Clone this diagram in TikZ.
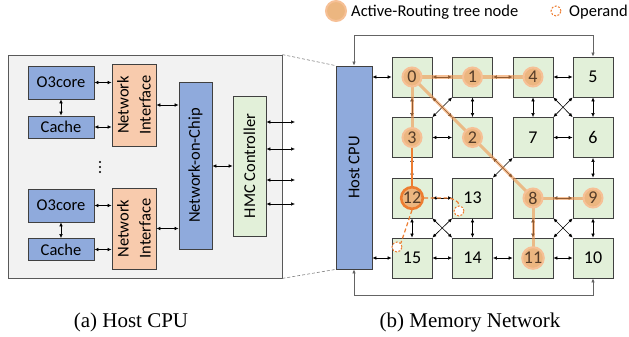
\documentclass[tikz,border=0pt]{standalone}
\usepackage{fontspec}
\setmainfont{Carlito}
\newfontfamily\capfont{Liberation Serif}
\usetikzlibrary{arrows.meta}

\definecolor{cpublue}{RGB}{143,170,220}
\definecolor{nipeach}{RGB}{248,203,173}
\definecolor{mint}{RGB}{226,240,217}
\definecolor{panelgray}{RGB}{242,242,242}
\definecolor{paneledge}{RGB}{89,89,89}
\definecolor{edgegray}{RGB}{64,64,64}
\definecolor{treeline}{RGB}{240,150,80}
\definecolor{treefill}{RGB}{236,182,128}
\definecolor{treering}{RGB}{246,192,150}
\definecolor{treetext}{RGB}{85,60,40}
\definecolor{ordark}{RGB}{237,125,49}
\definecolor{loopgray}{RGB}{100,100,100}

\begin{document}
\begin{tikzpicture}[x=1pt,y=-1pt,
  font=\fontsize{16.5}{20}\selectfont,
  tip/.tip={Latex[length=4pt,width=3.6pt]},
  link/.style={tip-tip, line width=0.6pt, black},
  loopline/.style={-tip, line width=0.9pt, loopgray},
  anybox/.style={rectangle, draw=edgegray, line width=0.8pt, inner sep=0pt},
  bluebox/.style={anybox, fill=cpublue},
  peachbox/.style={anybox, fill=nipeach},
  greenbox/.style={anybox, fill=mint},
  tile/.style={greenbox, minimum width=40pt, minimum height=40pt},
  digits/.style={font=\fontsize{18}{20}\selectfont},
  treenode/.style={circle, inner sep=0pt, minimum size=19pt, fill=treefill,
    draw=treering, line width=2pt, text=treetext, digits},
  operand/.style={circle, inner sep=0pt, minimum size=10pt, fill=white,
    draw=ordark, dash pattern=on 2pt off 1.5pt, line width=1pt},
  treeedge/.style={draw=treeline, draw opacity=0.6, line width=3pt},
  opline/.style={draw=ordark, line width=1.2pt, dash pattern=on 4pt off 2.5pt},
  vlabel/.style={rotate=90, align=center, inner sep=0pt},
]
\useasboundingbox (0,0) rectangle (629,337);

% ---------------- Host CPU internals ----------------
\node[anybox, fill=panelgray, draw=paneledge, minimum width=274pt, minimum height=223pt] (panel) at (145,166.5) {};

\node[bluebox, minimum width=66pt, minimum height=33pt] (core1) at (61,82.5) {O3core};
\node[bluebox, minimum width=66pt, minimum height=22pt] (cache1) at (61,127) {Cache};
\node[bluebox, minimum width=66pt, minimum height=33pt] (core2) at (61,205.5) {O3core};
\node[bluebox, minimum width=66pt, minimum height=22pt] (cache2) at (61,249.5) {Cache};

\node[peachbox, minimum width=44pt, minimum height=82pt] (ni1) at (134,105) {};
\node[vlabel, font=\fontsize{16.5}{22}\selectfont] (ni1t) at (ni1.center) {Network\\Interface};
\node[peachbox, minimum width=44pt, minimum height=81pt] (ni2) at (134,228.5) {};
\node[vlabel, font=\fontsize{16.5}{22}\selectfont] (ni2t) at (ni2.center) {Network\\Interface};

\node[bluebox, minimum width=33pt, minimum height=167pt] (noc) at (195.5,165.5) {};
\node[vlabel] (noct) at (noc.center) {Network-on-Chip};
\node[greenbox, minimum width=33pt, minimum height=140pt] (hmc) at (249.5,166) {};
\node[vlabel] (hmct) at (hmc.center) {HMC Controller};

% vertical ellipsis between the two core groups
\foreach \yy in {162,167,172} \fill (100,\yy) circle (1.2pt);

\draw[link] (core1.east) -- (core1.east -| ni1.west);
\draw[link] (cache1.east) -- (cache1.east -| ni1.west);
\draw[link] (core1.south) -- (cache1.north);
\draw[link] (core2.east) -- (core2.east -| ni2.west);
\draw[link] (cache2.east) -- (cache2.east -| ni2.west);
\draw[link] (core2.south) -- (cache2.north);
\draw[link] (ni1.east) -- (ni1.east -| noc.west);
\draw[link] (ni2.east) -- (ni2.east -| noc.west);
\draw[link] (noc.east |- hmc.center) -- (hmc.west);

\coordinate (port1) at (295,122);
\coordinate (port2) at (295,149);
\coordinate (port3) at (295,180);
\coordinate (port4) at (295,204);
\foreach \p in {port1,port2,port3,port4}
  \draw[link] (hmc.east |- \p) -- (\p);

% ---------------- Memory network ----------------
\node[bluebox, minimum width=36pt, minimum height=203pt] (host) at (354,167.5) {};
\node[vlabel] (hostt) at (host.center) {Host CPU};

\draw[densely dashed, line width=0.6pt, gray] (panel.north east) -- (host.north west);
\draw[densely dashed, line width=0.6pt, gray] (panel.south east) -- (host.south west);

\foreach \n/\x/\y in {0/412/77, 1/472.5/77, 4/533/77, 5/593/77,
                      3/412/137.5, 2/472.5/137.5, 7/533/137.5, 6/593/137.5,
                      12/412/198, 13/472.5/198, 8/533/198, 9/593/198,
                      15/412/258, 14/472.5/258, 11/533/258, 10/593/258}
  \node[tile] (n\n) at (\x,\y) {};

% wrap-around links from the host to the far column
\coordinate (topA) at (354,35);
\coordinate (botA) at (354,295);
\draw[loopline] (topA) -- (topA -| n5.north) -- (n5.north);
\draw[loopline] (topA -| n5.north) -- (topA) -- (host.north);
\draw[loopline] (botA) -- (host.south);
\draw[loopline] (botA) -- (botA -| n10.south) -- (n10.south);

% mesh links
\foreach \a/\b in {0/1,1/4,4/5,3/2,7/6,12/13,8/9,15/14,14/11,11/10}
  \draw[link] (n\a.east) -- (n\b.west);
\foreach \a/\b in {0/3,1/2,4/7,5/6,6/9,12/15,13/14,8/11,9/10}
  \draw[link] (n\a.south) -- (n\b.north);
\draw[link] (host.east |- n0.center) -- (n0.west);
\draw[link] (host.east |- n15.center) -- (n15.west);

% diagonal cross links
\foreach \a/\b/\c/\d in {0/2/1/3, 4/6/5/7, 2/8/7/13, 12/14/13/15, 8/10/9/11} {
  \draw[link] (n\a.south east) -- (n\b.north west);
  \draw[link] (n\c.south west) -- (n\d.north east);
}

% plain tile labels
\foreach \n in {5,7,6,13,15,14,10}
  \node[inner sep=0pt, digits] (l\n) at (n\n.center) {\n};

% reduction tree overlay
\draw[link] (n3.south) -- (n12.north);
\draw[treeedge] (n0.center) -- (n1.center) -- (n4.center);
\draw[treeedge] (n0.center) -- (n3.center);
\draw[treeedge] (n0.center) -- (n2.center) -- (n8.center);
\draw[treeedge] (n9.center) -- (n8.center) -- (n11.center);
\draw[draw=ordark, line width=2.5pt] (n3.center) -- (n12.center);

\foreach \n in {0,1,4,3,2,8,9,11}
  \node[treenode] (t\n) at (n\n.center) {\n};
\node[treenode, draw=ordark, line width=2.6pt] (t12) at (n12.center) {12};

% operands fetched for node 12
\node[operand] (op13) at (459,211) {};
\node[operand] (op15) at (397,247) {};
\draw[opline] (t12.east) -- (446,198) .. controls (453,198) and (459,201) .. (op13.north);
\draw[opline] (t12.south) -- (op15.north east);

% legend
\node[treenode, minimum size=20pt] (legtree) at (336,11) {};
\node[anchor=base west, inner sep=0pt] (legtreet) at (351,16.3) {Active-Routing tree node};
\node[operand] (legop) at (556,11) {};
\node[anchor=base west, inner sep=0pt] (legopt) at (569,16.3) {Operand};

% captions
\node[font=\capfont\fontsize{21}{24}\selectfont, inner sep=0pt] (capa) at (131,322) {(a) Host CPU};
\node[font=\capfont\fontsize{21}{24}\selectfont, inner sep=0pt] (capb) at (470,322) {(b) Memory Network};
\end{tikzpicture}
\end{document}
